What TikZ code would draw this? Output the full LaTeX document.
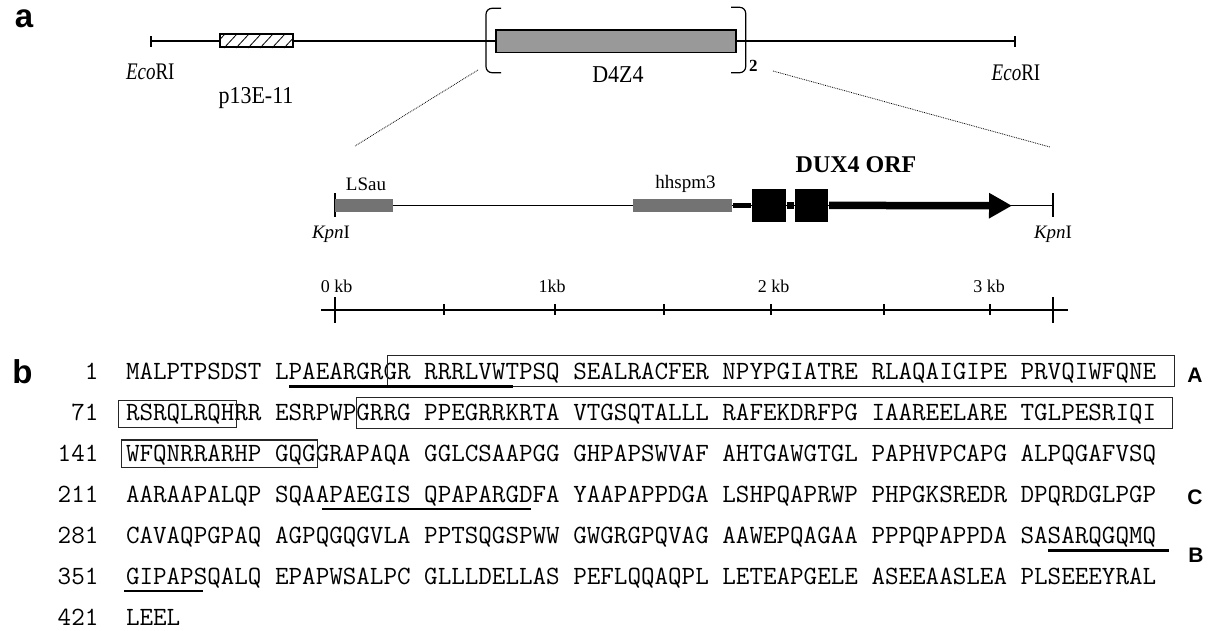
\documentclass[tikz,border=0pt]{standalone}
\usepackage{fontspec}
\usepackage{graphicx}
\setmainfont{Liberation Serif}
\setmonofont{Latin Modern Mono}
\newfontfamily\panelfont{Liberation Sans}
\usetikzlibrary{arrows.meta}
\newcommand\tallA[1]{\scalebox{1}[1.25]{#1}}
\newcommand\tallB[1]{\scalebox{1}[1.1]{#1}}
\colorlet{repeat fill}{black!40}
\colorlet{probe fill}{black!55}
\tikzset{panel/.style={font=\panelfont\bfseries\fontsize{33}{33}\selectfont, inner sep=0},
    motif/.style={font=\panelfont\bfseries\fontsize{21}{21}\selectfont, inner sep=0},
    site/.style={font=\fontsize{19}{19}\selectfont, inner sep=0},
    toplabel/.style={font=\fontsize{22}{22}\selectfont, inner sep=0, anchor=base},
    kb/.style={font=\fontsize{18}{18}\selectfont, inner sep=0},
    probebar/.style={fill=probe fill, minimum height=12.7pt, inner sep=0},
    exon/.style={fill=black, minimum width=34pt, minimum height=32.7pt, inner sep=0},
    seqrow/.style={font=\ttfamily\fontsize{26.32}{26.32}\selectfont, inner sep=0, outer sep=0, anchor=base west},
    resnum/.style={font=\ttfamily\fontsize{26.32}{26.32}\selectfont, inner sep=0, outer sep=0, anchor=base east},
    hdbox/.style={draw=black!85, line width=1.2pt},
    motifline/.style={line width=2.6pt},
    zoomline/.style={densely dotted, line width=0.8pt}}

\begin{document}
\begin{tikzpicture}[x=1pt, y=-1pt, line width=1.2pt]
    \useasboundingbox (0,0) rectangle (1216,630);
    % a: EcoRI fragment with p13E-11 and D4Z4 repeat
    \node[panel, anchor=base] (pa) at (24,27) {a};
    \draw (151,41) -- (1015,41);
    \draw (151,36) -- (151,46.5) (1015,36) -- (1015,46.5);
    \node[draw, line width=2pt, fill=white, minimum width=72.7pt, minimum height=13pt, inner sep=0] (p13) at (256.4,40.8) {};
    \begin{scope}
        \clip (p13.south west) rectangle (p13.north east);
        \foreach \h in {0,...,7}
            \draw[line width=0.8pt] ({212+\h*12},48) -- ++(13,-14);
    \end{scope}
    \node[draw, fill=repeat fill, minimum width=240pt, minimum height=22.3pt, inner sep=0] (d4z4) at (616,41.1) {};
    \draw[rounded corners=6pt] (501,8.3) -- (486,8.3) -- (486,72.7) -- (501,72.7);
    \draw[rounded corners=6pt] (731,7.3) -- (745.7,7.3) -- (745.7,72.7) -- (731,72.7);
    \node[font=\bfseries\fontsize{17}{17}\selectfont, inner sep=0, anchor=base west] (copies) at (748.5,71.7) {2};
    \node[site, anchor=base] (ecoL) at (150.3,79.3) {\tallA{\textit{Eco}RI}};
    \node[site, anchor=base] (ecoR) at (1016,80) {\tallA{\textit{Eco}RI}};
    \node[toplabel] (p13lab) at (256,103.3) {\tallB{p13E-11}};
    \node[toplabel] (d4lab) at (618,82.7) {\tallB{D4Z4}};

    % zoom into one repeat
    \coordinate (zl) at (478,70);
    \coordinate (zr) at (773,71);
    \coordinate (kl) at (355,146);
    \coordinate (kr) at (1050,147);
    \draw[zoomline] (zl) -- (kl);
    \draw[zoomline] (zr) -- (kr);

    \draw (335,205.7) -- (1053,205.7);
    \draw (335,193) -- (335,217) (1053,193) -- (1053,217);
    \node[probebar, minimum width=58pt] (lsau) at (364,205.4) {};
    \node[probebar, minimum width=99.5pt] (hhspm) at (682.7,205.4) {};
    \node[exon] (ex1) at (769,205.4) {};
    \node[exon, minimum width=33.5pt] (ex2) at (811.7,205.4) {};
    \draw[line width=5pt] (hhspm.east) -- (ex1.west);
    \draw[line width=7.5pt] (ex1.east) -- (ex2.west);
    \draw[line width=7.5pt, -{Triangle[length=23pt, width=24pt]}] (ex2.east) -- (1012,205.7);
    \node[site] (lsaulab) at (366,184) {LSau};
    \node[site] (hhlab) at (685.5,184) {hhspm3};
    \node[font=\bfseries\fontsize{24}{24}\selectfont, inner sep=0] (orf) at (856,165) {DUX4 ORF};
    \node[site] (kpnL) at (331,234.5) {\textit{Kpn}I};
    \node[site] (kpnR) at (1053,234.5) {\textit{Kpn}I};

    % scale bar
    \draw (321,310) -- (1068,310);
    \draw (335,297) -- (335,323) (1053,297) -- (1053,323);
    \foreach \t in {444,555,664,771,884,990}
        \draw (\t,304) -- (\t,315);
    \node[kb] (kb0) at (336.5,286) {0 kb};
    \node[kb] (kb1) at (552,286) {1kb};
    \node[kb] (kb2) at (773.5,286) {2 kb};
    \node[kb] (kb3) at (989,286) {3 kb};

    % b: DUX4 protein
    \node[panel, anchor=base] (pb) at (22.5,383) {b};
    \foreach \n/\s [count=\k] in {1/MALPTPSDST LPAEARGRGR RRRLVWTPSQ SEALRACFER NPYPGIATRE RLAQAIGIPE PRVQIWFQNE,
        71/RSRQLRQHRR ESRPWPGRRG PPEGRRKRTA VTGSQTALLL RAFEKDRFPG IAAREELARE TGLPESRIQI,
        141/WFQNRRARHP GQGGRAPAQA GGLCSAAPGG GHPAPSWVAF AHTGAWGTGL PAPHVPCAPG ALPQGAFVSQ,
        211/AARAAPALQP SQAAPAEGIS QPAPARGDFA YAAPAPPDGA LSHPQAPRWP PHPGKSREDR DPQRDGLPGP,
        281/CAVAQPGPAQ AGPQGQGVLA PPTSQGSPWW GWGRGPQVAG AAWEPQAGAA PPPQPAPPDA SASARQGQMQ,
        351/GIPAPSQALQ EPAPWSALPC GLLLDELLAS PEFLQQAQPL LETEAPGELE ASEEAASLEA PLSEEEYRAL,
        421/LEEL}
    {
        \node[resnum] (num\k) at (98.4,{379.5+41*(\k-1)}) {\n};
        \node[seqrow] (row\k) at (126,{379.5+41*(\k-1)}) {\s};
    }
    % homeodomains and motifs, x in residues
    \begin{scope}[shift={(126,0)}, x=13.818pt]
        \draw[hdbox] (18.95,355.7) rectangle (75.9,386.7);
        \draw[hdbox] (-0.55,400.5) rectangle (8,427.5);
        \draw[hdbox] (16.7,397.3) rectangle (75.75,428.3);
        \draw[hdbox] (-0.3,440) rectangle (13.85,467.3);
        \draw[motifline] (11.83,386.7) -- (27.98,386.7);
        \draw[motifline] (14.16,509) -- (29.3,509);
        \draw[motifline] (66.74,550.5) -- (75.5,550.5);
        \draw[motifline] (-0.14,591) -- (5.55,591);
    \end{scope}
    \node[motif] (mA) at (1195,375) {A};
    \node[motif] (mC) at (1195,497) {C};
    \node[motif] (mB) at (1196,555) {B};
\end{tikzpicture}
\end{document}
